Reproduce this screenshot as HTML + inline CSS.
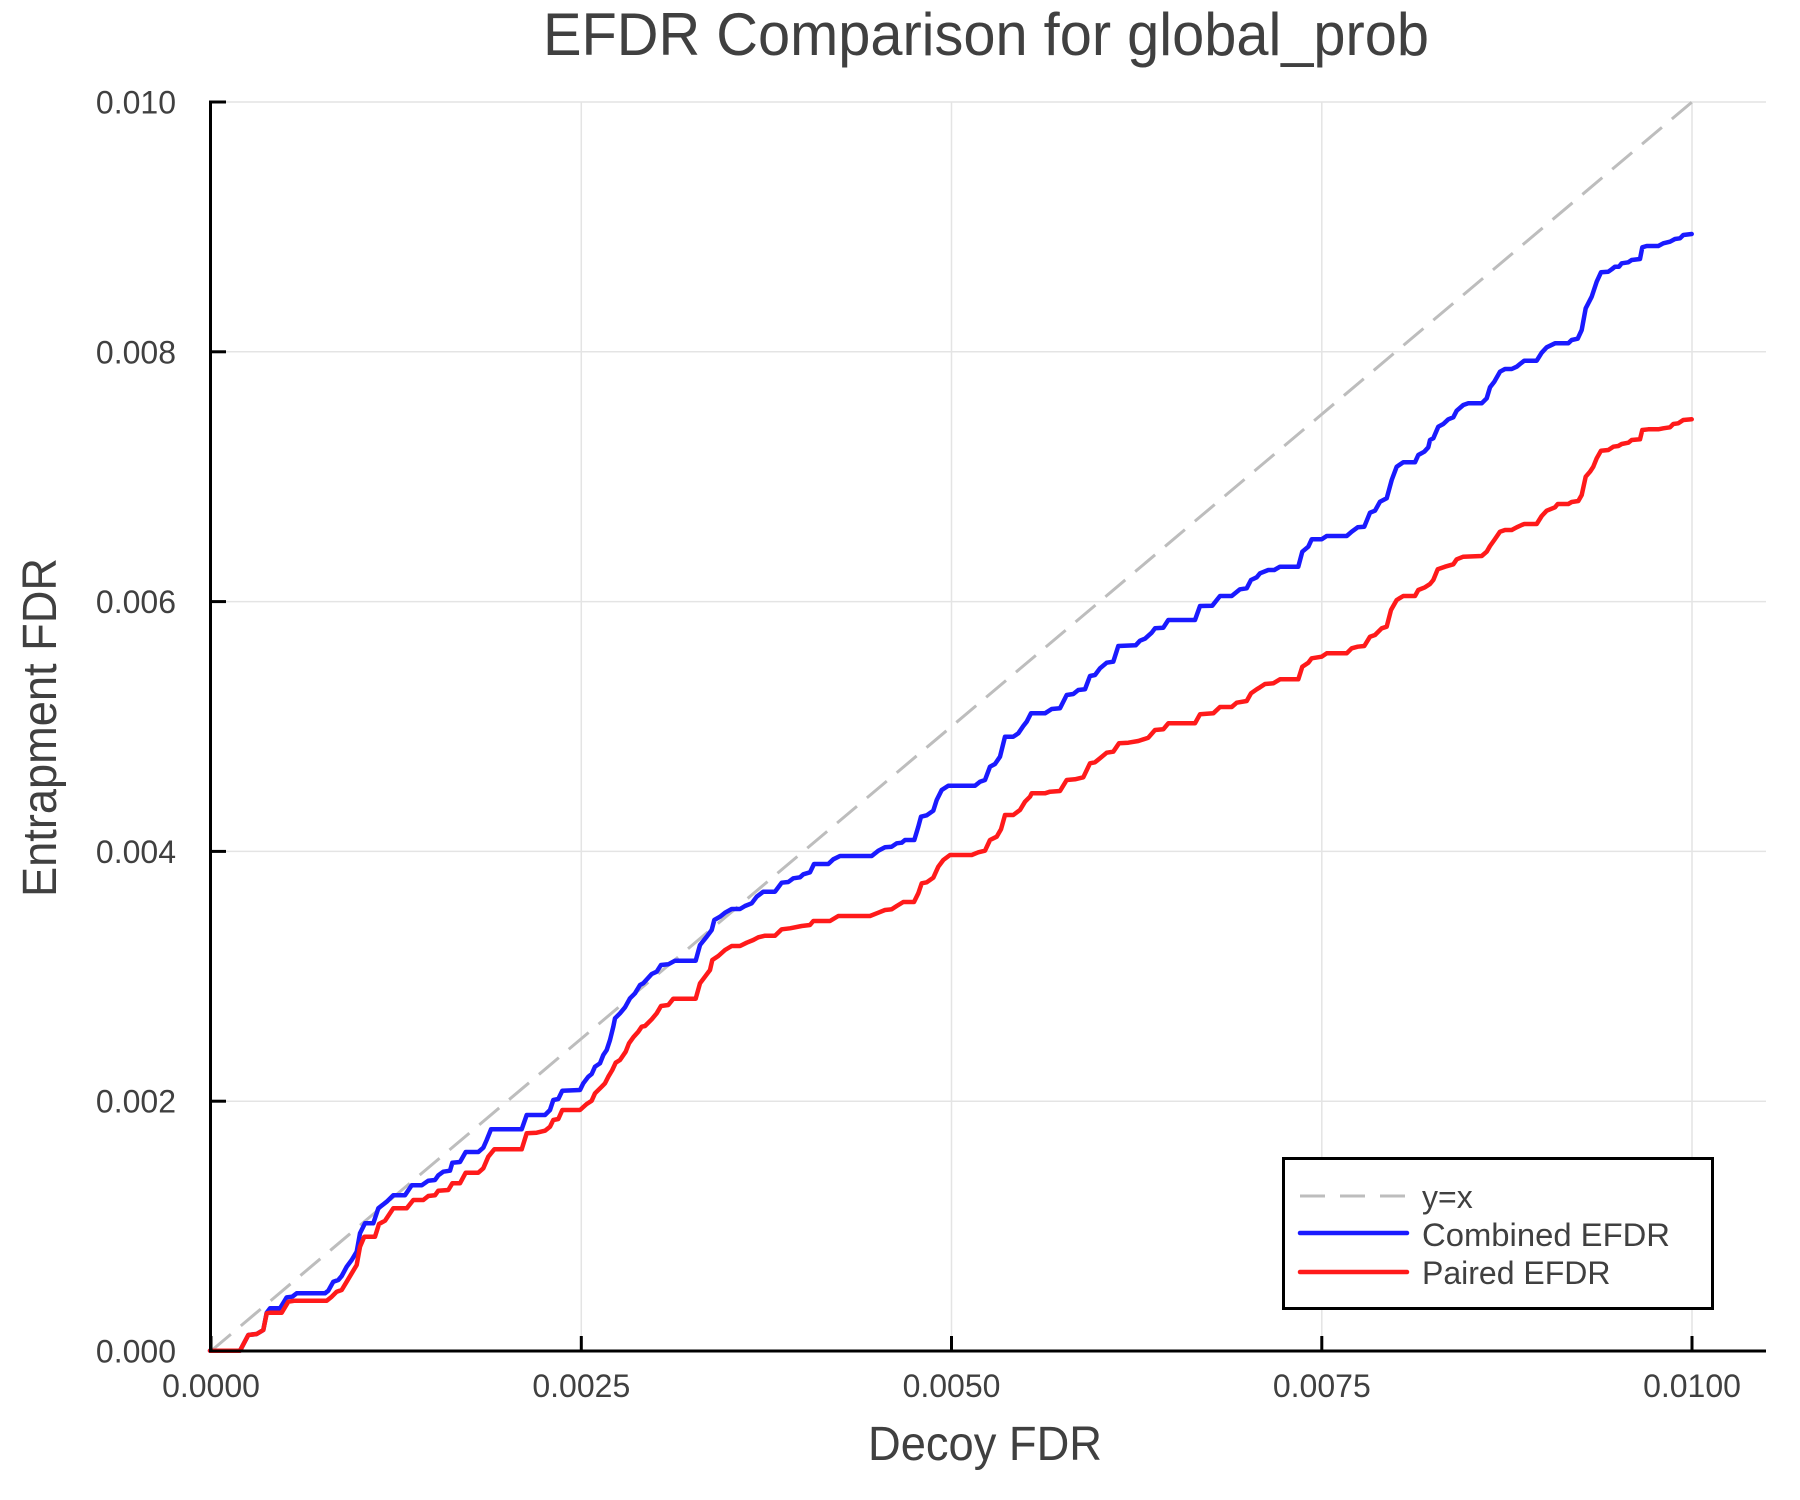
<!DOCTYPE html>
<html>
<head>
<meta charset="utf-8">
<style>
  html, body { margin: 0; padding: 0; background: #ffffff; }
  svg { display: block; }
  text { font-family: "Liberation Sans", "DejaVu Sans", sans-serif; fill: #404040; }
</style>
</head>
<body>
<svg width="1800" height="1500" viewBox="0 0 1800 1500" xmlns="http://www.w3.org/2000/svg">
  <rect x="0" y="0" width="1800" height="1500" fill="#ffffff"/>

  <!-- Title -->
  <text x="986" y="55" font-size="60" text-anchor="middle" textLength="886" lengthAdjust="spacingAndGlyphs">EFDR Comparison for global_prob</text>

  <!-- Grid lines -->
  <g stroke="#e4e4e4" stroke-width="1.5" fill="none">
    <line x1="581.3" y1="102" x2="581.3" y2="1351"/>
    <line x1="951.5" y1="102" x2="951.5" y2="1351"/>
    <line x1="1321.8" y1="102" x2="1321.8" y2="1351"/>
    <line x1="1692" y1="102" x2="1692" y2="1351"/>
    <line x1="211" y1="1101.2" x2="1766" y2="1101.2"/>
    <line x1="211" y1="851.4" x2="1766" y2="851.4"/>
    <line x1="211" y1="601.6" x2="1766" y2="601.6"/>
    <line x1="211" y1="351.8" x2="1766" y2="351.8"/>
    <line x1="211" y1="102" x2="1766" y2="102"/>
  </g>

  <!-- y = x dashed -->
  <line x1="211" y1="1351" x2="1692" y2="102" stroke="#bdbdbd" stroke-width="3" stroke-dasharray="26 13"/>

  <!-- Combined EFDR (blue) -->
  <polyline fill="none" stroke="#1a1aff" stroke-width="4.5" stroke-linejoin="round" stroke-linecap="round" points="210,1350.7 240,1350.7 248.3,1335 256.7,1334 263.3,1330 266.7,1312.7 270,1308.3 280,1308.3 286.7,1297.3 292.3,1296.7 296.7,1293.3 325,1293.3 328.3,1290.7 333.3,1281.7 338.3,1280 341.7,1276 346.7,1266.7 351.7,1260 356.7,1251.7 360,1233.3 365,1223.3 373.3,1223.3 378.3,1208.3 386.7,1201.7 393.3,1195.3 405,1195.3 411.7,1185.3 421.7,1185.3 428.3,1180.7 435,1180 438.3,1175.3 443.3,1171.7 450,1170.7 452.3,1162.7 460,1162 465.7,1152 478.3,1152 483.3,1147.7 486.7,1140 491,1129.3 521.7,1129.3 526.7,1115 545,1115 550,1110 553.3,1100 558.3,1099 562.3,1090.7 580,1090 583.3,1083.3 588.3,1076.7 591.7,1074 595,1066.7 600,1063.3 603.3,1055 606.7,1050 610,1040 613.3,1026.7 615,1018.3 620,1013.3 625,1007.3 630,998.3 635,993.3 640,985 643.3,983.3 651.7,974 656.7,971.7 661,965 668.3,964.3 675,960.7 695.7,960.7 700,945 706.7,936.7 711.7,930 714.3,920 720,916.7 725,912.7 731.7,909 740,909 745,906 751.7,903.3 756.7,896.7 763.3,891.7 775,891.7 781.7,882.7 788.3,882 793.3,878.3 800,877.3 803.3,874.3 810,872.3 814,864 828.3,864 833.3,859.3 840,856 871.7,856 878.3,850.7 885,847.3 891.7,846.7 896.7,843.3 901.7,842.7 905,840 914.3,840 918.3,826.7 921,816.7 926.7,815.3 933.3,810.7 936.7,800 941.7,790 948.3,785.7 975,785.7 980,781.7 985,780 990,766.7 995,764 1000,756.7 1005,736.7 1013.3,736.7 1018.3,733.3 1023.3,726 1026.7,721.7 1031,713.3 1045,713.3 1051.7,709 1060,708.3 1066.7,695 1073.3,694 1078.3,690 1085,689.3 1090,676 1095,675 1100,668.3 1106.7,662.7 1113.3,661.7 1118.3,646 1135.7,645.3 1140,640.7 1145,638.7 1151.7,632.7 1155,628.3 1163.3,627.7 1168.3,620 1195,620 1200,606 1212.3,605.7 1220,596 1231.7,596 1240,589.3 1246.7,588.3 1251,580 1256.7,577.3 1260,573.3 1268.3,570 1274.3,570 1280,566.7 1298.3,566.7 1302.3,551.7 1308.3,546.7 1311.7,539.3 1321.7,539.3 1326.7,536 1346.7,536 1351.7,531.7 1357.7,527.3 1364.3,526.7 1370,512.7 1375,510.7 1380,501.7 1386.7,498.3 1391.7,480 1396.7,466.7 1403.3,462.3 1415,462.3 1418.3,455 1424.3,451.7 1428.3,447.3 1430,440 1433.3,438.3 1438.3,426.7 1443.3,424 1448.3,419.3 1453.3,417.3 1456.7,410.7 1463.3,405 1468.3,403.3 1481.7,403.3 1486.7,398.3 1490,387.3 1494.3,381.7 1500,371.7 1505,369 1511.7,369 1516.7,366.7 1520,364 1524.3,360.7 1536.7,360.7 1541.7,352.7 1546.7,347.3 1555,343.3 1568.3,343.3 1571.7,340 1577.7,338.7 1581.7,330 1585.7,308.3 1588.3,303.3 1591.7,296.7 1596.7,281.7 1601,272.3 1608.3,271.7 1611.7,269.3 1615,266.7 1619,266.7 1621.7,263.3 1628.3,262.3 1631.7,260 1640,259 1642.3,247.3 1646.7,246 1658.3,246 1663.3,243.3 1670,241.7 1675,239 1680,238.3 1683.3,235 1691.7,234"/>

  <!-- Paired EFDR (red) -->
  <polyline fill="none" stroke="#ff1a1a" stroke-width="4.5" stroke-linejoin="round" stroke-linecap="round" points="210,1350.7 240,1350.7 248.3,1335 256.7,1334 263.3,1330 266.7,1313.3 270,1312.7 281.7,1312.7 288.3,1301.7 295,1300.7 326.7,1300.7 331.7,1296.7 336.7,1291.7 341.7,1290 346.7,1281.7 351.7,1273.3 356.7,1265 360,1246.7 364.3,1236.7 375,1236.7 379,1224 385,1220.7 393.3,1208.3 406.7,1208.3 413.3,1200 423.3,1200 428.3,1196 435,1195.3 438.3,1190.7 448.3,1190 452.3,1183.3 460,1183.3 465.7,1172.7 478.3,1172.7 483.3,1168.3 488.3,1156.7 494.3,1149.3 521.7,1149.3 526.7,1133.3 536.7,1132.7 545,1130.7 550,1126.7 553.3,1120 558.3,1119 562.3,1110 580,1110 586.7,1104 591.7,1100.7 595,1093.3 601.7,1086.7 605,1083.3 608.3,1076.7 612.3,1070 615.7,1062.7 620,1060 625.7,1051.7 629,1043.3 633.3,1037.3 638.3,1031.7 641.7,1026.7 645,1026 651.7,1019.3 656.7,1013.3 661,1006 668.3,1005 673.3,998.7 695.7,998.7 700,983.3 705,976.7 710,970 712.3,960 718.3,956 725,950 731.7,946 740,946 746.7,942.7 753.3,940 758.3,937.3 765,935.7 775,935.7 781.7,929.3 790,928.3 801.7,926 810,925 813.3,921 830,921 838.3,916 870,916 878.3,912.7 885,910 891.7,909.3 896.7,906 903.3,902 914,902 918.3,893.3 921.7,883.3 926.7,882.3 933.3,877.7 938.3,866.7 943.3,860 950,855 971.7,855 978.3,852.3 985,850.7 990,840 996.7,836.7 1001,829.3 1005,815 1013.3,815 1020,810 1025,801.7 1030,796.7 1031.7,793.3 1045,793.3 1050,791.7 1060,791 1066.7,780 1075,779.3 1083.3,777.3 1090,763.3 1095,762.3 1100,758.3 1106.7,752.7 1113.3,751.7 1119,743.3 1128.3,742.7 1138.3,741 1148.3,737.7 1155,730 1163.3,729.3 1168.3,723.3 1195,723.3 1200,714.3 1213.3,713.3 1220,707 1231.7,707 1236.7,702.7 1246.7,701 1251,693.3 1256.7,689.3 1260,687.3 1265,684 1273.3,683.3 1280,679.3 1298.3,679.3 1302.3,666.7 1308.3,662.7 1311.7,658.3 1321.7,656.7 1326.7,653.3 1346.7,653.3 1351.7,648.3 1357.7,646.7 1364.3,646 1370,636.7 1375,635 1381.7,628.3 1386.7,626.7 1391,610 1396.7,600 1403.3,596 1415,596 1418.3,590 1425,587.3 1430,584 1433.3,580 1437.7,569.3 1445,566.7 1453.3,564.3 1456.7,559.3 1463.3,556.7 1481.7,556 1486.7,551.7 1490,546 1494.3,540 1500,531.7 1505,530 1511.7,530 1516.7,527.3 1521.7,525 1524.3,524 1536.7,524 1541.7,516 1546.7,510.7 1555,507.3 1557.7,504 1568.3,504 1571.7,502 1578.3,501 1581.7,495 1585.7,476.7 1590,471.7 1593.3,466.7 1596.7,458.3 1601,450.7 1608.3,450 1613.3,446.7 1618.3,446 1621.7,444 1628.3,442.7 1631.7,440 1640,439.3 1642.3,430 1648.3,429.3 1658.3,429.3 1663.3,428.3 1670,427.3 1673.3,424 1678.3,423.3 1683.3,420 1691.7,419.3"/>

  <!-- Axes spines -->
  <g stroke="#000000" stroke-width="3" fill="none">
    <line x1="210.5" y1="100.5" x2="210.5" y2="1352.5"/>
    <line x1="209" y1="1351" x2="1766" y2="1351"/>
    <!-- y ticks -->
    <line x1="210" y1="1351" x2="226" y2="1351"/>
    <line x1="210" y1="1101.2" x2="226" y2="1101.2"/>
    <line x1="210" y1="851.4" x2="226" y2="851.4"/>
    <line x1="210" y1="601.6" x2="226" y2="601.6"/>
    <line x1="210" y1="351.8" x2="226" y2="351.8"/>
    <line x1="209" y1="102" x2="226" y2="102"/>
    <!-- x ticks -->
    <line x1="211" y1="1351" x2="211" y2="1336"/>
    <line x1="581.3" y1="1351" x2="581.3" y2="1336"/>
    <line x1="951.5" y1="1351" x2="951.5" y2="1336"/>
    <line x1="1321.8" y1="1351" x2="1321.8" y2="1336"/>
    <line x1="1692" y1="1351" x2="1692" y2="1336"/>
  </g>

  <!-- Y tick labels -->
  <g font-size="32" text-anchor="end">
    <text x="176" y="1362.5">0.000</text>
    <text x="176" y="1112.7">0.002</text>
    <text x="176" y="862.9">0.004</text>
    <text x="176" y="613.1">0.006</text>
    <text x="176" y="363.3">0.008</text>
    <text x="176" y="113.5">0.010</text>
  </g>

  <!-- X tick labels -->
  <g font-size="32" text-anchor="middle">
    <text x="211" y="1397">0.0000</text>
    <text x="581.3" y="1397">0.0025</text>
    <text x="951.5" y="1397">0.0050</text>
    <text x="1321.8" y="1397">0.0075</text>
    <text x="1692" y="1397">0.0100</text>
  </g>

  <!-- Axis labels -->
  <text x="985" y="1460" font-size="48" text-anchor="middle" textLength="234" lengthAdjust="spacingAndGlyphs">Decoy FDR</text>
  <text x="0" y="0" font-size="48" text-anchor="middle" textLength="339" lengthAdjust="spacingAndGlyphs" transform="translate(56,727.5) rotate(-90)">Entrapment FDR</text>

  <!-- Legend -->
  <rect x="1283.5" y="1158.5" width="429" height="150" fill="#ffffff" stroke="#000000" stroke-width="3"/>
  <line x1="1300" y1="1196" x2="1407" y2="1196" stroke="#bdbdbd" stroke-width="3" stroke-dasharray="25 15"/>
  <line x1="1300" y1="1233" x2="1407" y2="1233" stroke="#1a1aff" stroke-width="4.5" stroke-linecap="round"/>
  <line x1="1300" y1="1272" x2="1407" y2="1272" stroke="#ff1a1a" stroke-width="4.5" stroke-linecap="round"/>
  <g font-size="32">
    <text x="1422" y="1208">y=x</text>
    <text x="1422" y="1246" textLength="248" lengthAdjust="spacingAndGlyphs">Combined EFDR</text>
    <text x="1422" y="1284">Paired EFDR</text>
  </g>
</svg>
</body>
</html>
